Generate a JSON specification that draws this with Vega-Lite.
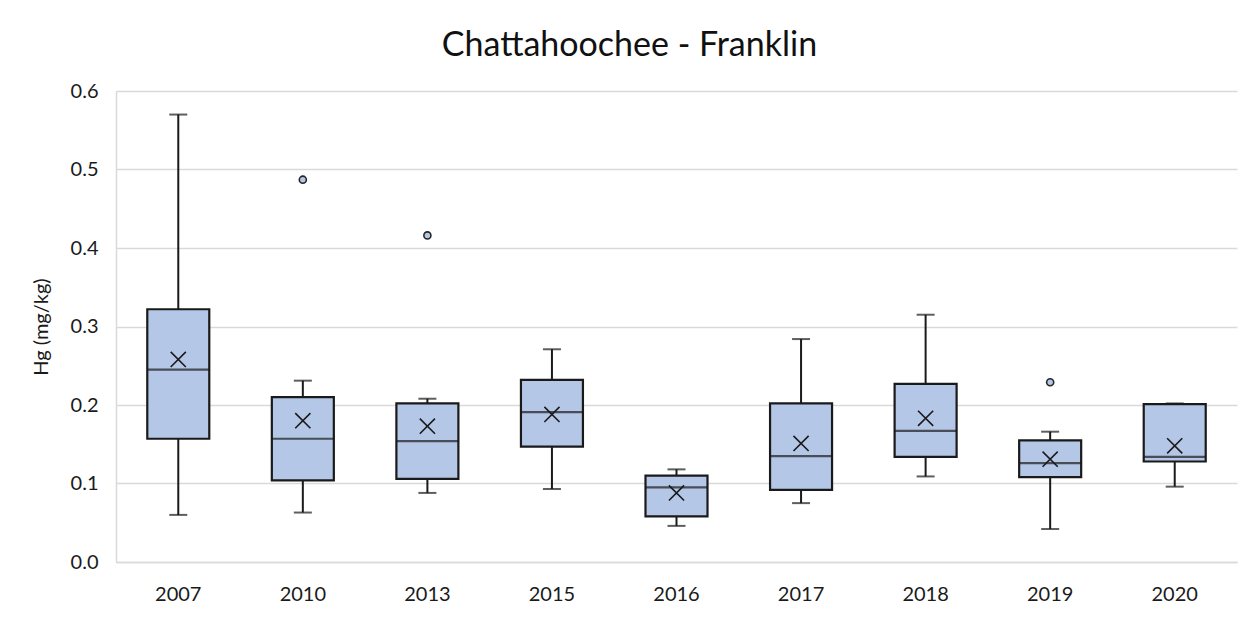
{
  "$schema": "https://vega.github.io/schema/vega-lite/v6.json",
  "width": 1121,
  "height": 471,
  "autosize": "none",
  "padding": {"left": 116, "top": 91, "right": 18, "bottom": 58},
  "background": "white",
  "title": {
    "text": "Chattahoochee - Franklin",
    "font": "Lato",
    "fontSize": 34,
    "fontWeight": "normal",
    "color": "#111111",
    "anchor": "middle",
    "baseline": "alphabetic",
    "offset": -9,
    "dx": -47
  },
  "config": {
    "view": {"stroke": null},
    "axis": {"labelFont": "Lato", "titleFont": "Lato", "labelColor": "#1a1a1a", "titleColor": "#1a1a1a"}
  },
  "datasets": {
    "stats": [
      {"year": "2007", "min": 0.060, "q1": 0.157, "median": 0.245, "q3": 0.322, "max": 0.570, "mean": 0.258},
      {"year": "2010", "min": 0.063, "q1": 0.104, "median": 0.157, "q3": 0.210, "max": 0.231, "mean": 0.180},
      {"year": "2013", "min": 0.088, "q1": 0.106, "median": 0.154, "q3": 0.202, "max": 0.208, "mean": 0.173},
      {"year": "2015", "min": 0.093, "q1": 0.147, "median": 0.191, "q3": 0.232, "max": 0.271, "mean": 0.188},
      {"year": "2016", "min": 0.046, "q1": 0.058, "median": 0.095, "q3": 0.110, "max": 0.118, "mean": 0.088},
      {"year": "2017", "min": 0.075, "q1": 0.092, "median": 0.135, "q3": 0.202, "max": 0.284, "mean": 0.151},
      {"year": "2018", "min": 0.109, "q1": 0.134, "median": 0.167, "q3": 0.227, "max": 0.315, "mean": 0.183},
      {"year": "2019", "min": 0.042, "q1": 0.108, "median": 0.126, "q3": 0.155, "max": 0.166, "mean": 0.131},
      {"year": "2020", "min": 0.096, "q1": 0.128, "median": 0.134, "q3": 0.201, "max": 0.202, "mean": 0.148}
    ],
    "outliers": [
      {"year": "2010", "value": 0.487},
      {"year": "2013", "value": 0.416},
      {"year": "2019", "value": 0.229}
    ]
  },
  "data": {"name": "stats"},
  "encoding": {
    "x": {
      "field": "year",
      "type": "ordinal",
      "scale": {"paddingInner": 0, "paddingOuter": 0},
      "axis": {
        "title": null,
        "labelAngle": 0,
        "labelFontSize": 20,
        "labelPadding": 22,
        "ticks": false,
        "domain": true,
        "domainColor": "#d9d9d9",
        "domainWidth": 1.5,
        "grid": false
      }
    }
  },
  "layer": [
    {
      "mark": {"type": "rule", "color": "#1a1a1a", "strokeWidth": 2},
      "encoding": {
        "y": {
          "field": "min",
          "type": "quantitative",
          "scale": {"domain": [0, 0.6], "nice": false},
          "axis": {
            "title": "Hg (mg/kg)",
            "titleFontSize": 20,
            "titleFontWeight": "normal",
            "titlePadding": 19,
            "values": [0, 0.1, 0.2, 0.3, 0.4, 0.5, 0.6],
            "format": ".1f",
            "labelFontSize": 20,
            "labelPadding": 18,
            "ticks": false,
            "domain": true,
            "domainColor": "#d9d9d9",
            "domainWidth": 1.5,
            "grid": true,
            "gridColor": "#d9d9d9",
            "gridWidth": 1.5
          }
        },
        "y2": {"field": "max"}
      }
    },
    {
      "mark": {"type": "tick", "color": "#1a1a1a", "size": 18, "thickness": 2, "orient": "horizontal"},
      "encoding": {"y": {"field": "min", "type": "quantitative"}}
    },
    {
      "mark": {"type": "tick", "color": "#1a1a1a", "size": 18, "thickness": 2, "orient": "horizontal"},
      "encoding": {"y": {"field": "max", "type": "quantitative"}}
    },
    {
      "mark": {"type": "bar", "size": 62, "fill": "#b4c7e7", "stroke": "#1a1a1a", "strokeWidth": 2.2},
      "encoding": {
        "y": {"field": "q1", "type": "quantitative"},
        "y2": {"field": "q3"}
      }
    },
    {
      "mark": {"type": "tick", "color": "#1a1a1a", "size": 62, "thickness": 2.2, "orient": "horizontal"},
      "encoding": {"y": {"field": "median", "type": "quantitative"}}
    },
    {
      "mark": {"type": "point", "shape": "M-1,-1L1,1M-1,1L1,-1", "filled": false, "stroke": "#1a1a1a", "strokeWidth": 1.6, "size": 230, "opacity": 1},
      "encoding": {"y": {"field": "mean", "type": "quantitative"}}
    },
    {
      "data": {"name": "outliers"},
      "mark": {"type": "point", "shape": "circle", "filled": true, "fill": "#b4c7e7", "stroke": "#262626", "strokeWidth": 1.6, "size": 50, "opacity": 1},
      "encoding": {"y": {"field": "value", "type": "quantitative"}}
    }
  ]
}
